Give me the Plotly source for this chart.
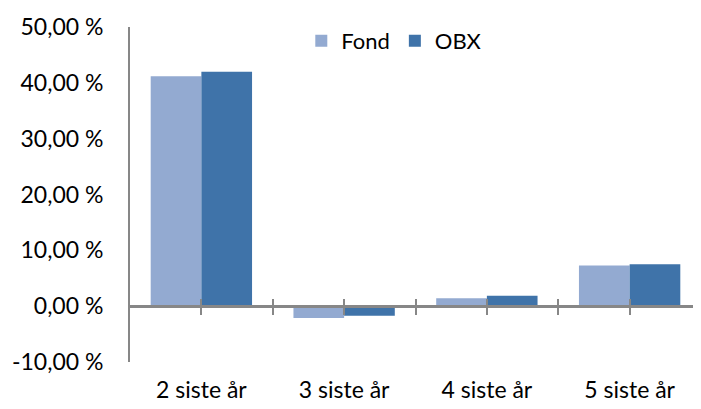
import plotly.graph_objects as go

categories = ["2 siste år", "3 siste år", "4 siste år", "5 siste år"]
fond = [41.2, -2.1, 1.4, 7.3]
obx = [42.0, -1.7, 1.85, 7.5]
y_ticks = [-10, 0, 10, 20, 30, 40, 50]
y_labels = ["-10,00 %", "0,00 %", "10,00 %", "20,00 %", "30,00 %", "40,00 %", "50,00 %"]

FONT = "Lato"
GREY = "#878787"
n = len(categories)
xs = list(range(n))

fig = go.Figure()
fig.add_trace(go.Bar(x=xs, y=fond, name="Fond", marker=dict(color="#93AAD1", line=dict(width=0))))
fig.add_trace(go.Bar(x=xs, y=obx, name="OBX", marker=dict(color="#3F73A9", line=dict(width=0))))
# invisible helper traces so the zero-line tick axes are drawn
for ax in ("x2", "x3"):
    fig.add_trace(go.Scatter(x=xs, y=fond, xaxis=ax, mode="markers", marker=dict(opacity=0),
                             showlegend=False, hoverinfo="skip"))

ymin, ymax = -10, 50
zero_pos = (0 - ymin) / (ymax - ymin)
tick_positions = [i * 0.5 for i in range(2 * n - 1)]

fig.update_layout(
    width=693, height=401,
    margin=dict(l=122, r=0, t=19, b=47),
    paper_bgcolor="white", plot_bgcolor="white",
    font=dict(family=FONT, size=22, color="#000000"),
    barmode="group", bargap=0.29, bargroupgap=0,
    showlegend=True,
    legend=dict(orientation="h", x=0.30, y=0.958, xanchor="left", yanchor="middle",
                font=dict(size=22), itemwidth=30, traceorder="normal", bgcolor="rgba(0,0,0,0)"),
    xaxis=dict(range=[-0.5, n - 0.5], tickvals=xs, ticktext=categories,
               showline=False, ticks="", showgrid=False, zeroline=False,
               tickfont=dict(size=23), automargin=False, ticklabelstandoff=12),
    xaxis2=dict(range=[-0.5, n - 0.5], overlaying="x", anchor="free", position=zero_pos,
                tickvals=tick_positions, showticklabels=False, ticks="outside", ticklen=7,
                tickwidth=2, tickcolor=GREY, showline=True, linecolor=GREY, linewidth=2.5,
                showgrid=False, zeroline=False, layer="above traces", automargin=False),
    xaxis3=dict(range=[-0.5, n - 0.5], overlaying="x", anchor="free", position=zero_pos,
                tickvals=tick_positions, showticklabels=False, ticks="inside", ticklen=7,
                tickwidth=2, tickcolor=GREY, showline=False,
                showgrid=False, zeroline=False, layer="above traces", automargin=False),
    yaxis=dict(range=[ymin, ymax], tickvals=y_ticks, ticktext=y_labels,
               showline=True, linecolor=GREY, linewidth=2, ticks="", showgrid=False,
               zeroline=False, tickfont=dict(size=23), ticklabelstandoff=20, automargin=False),
)

fig.write_html("out.html")
